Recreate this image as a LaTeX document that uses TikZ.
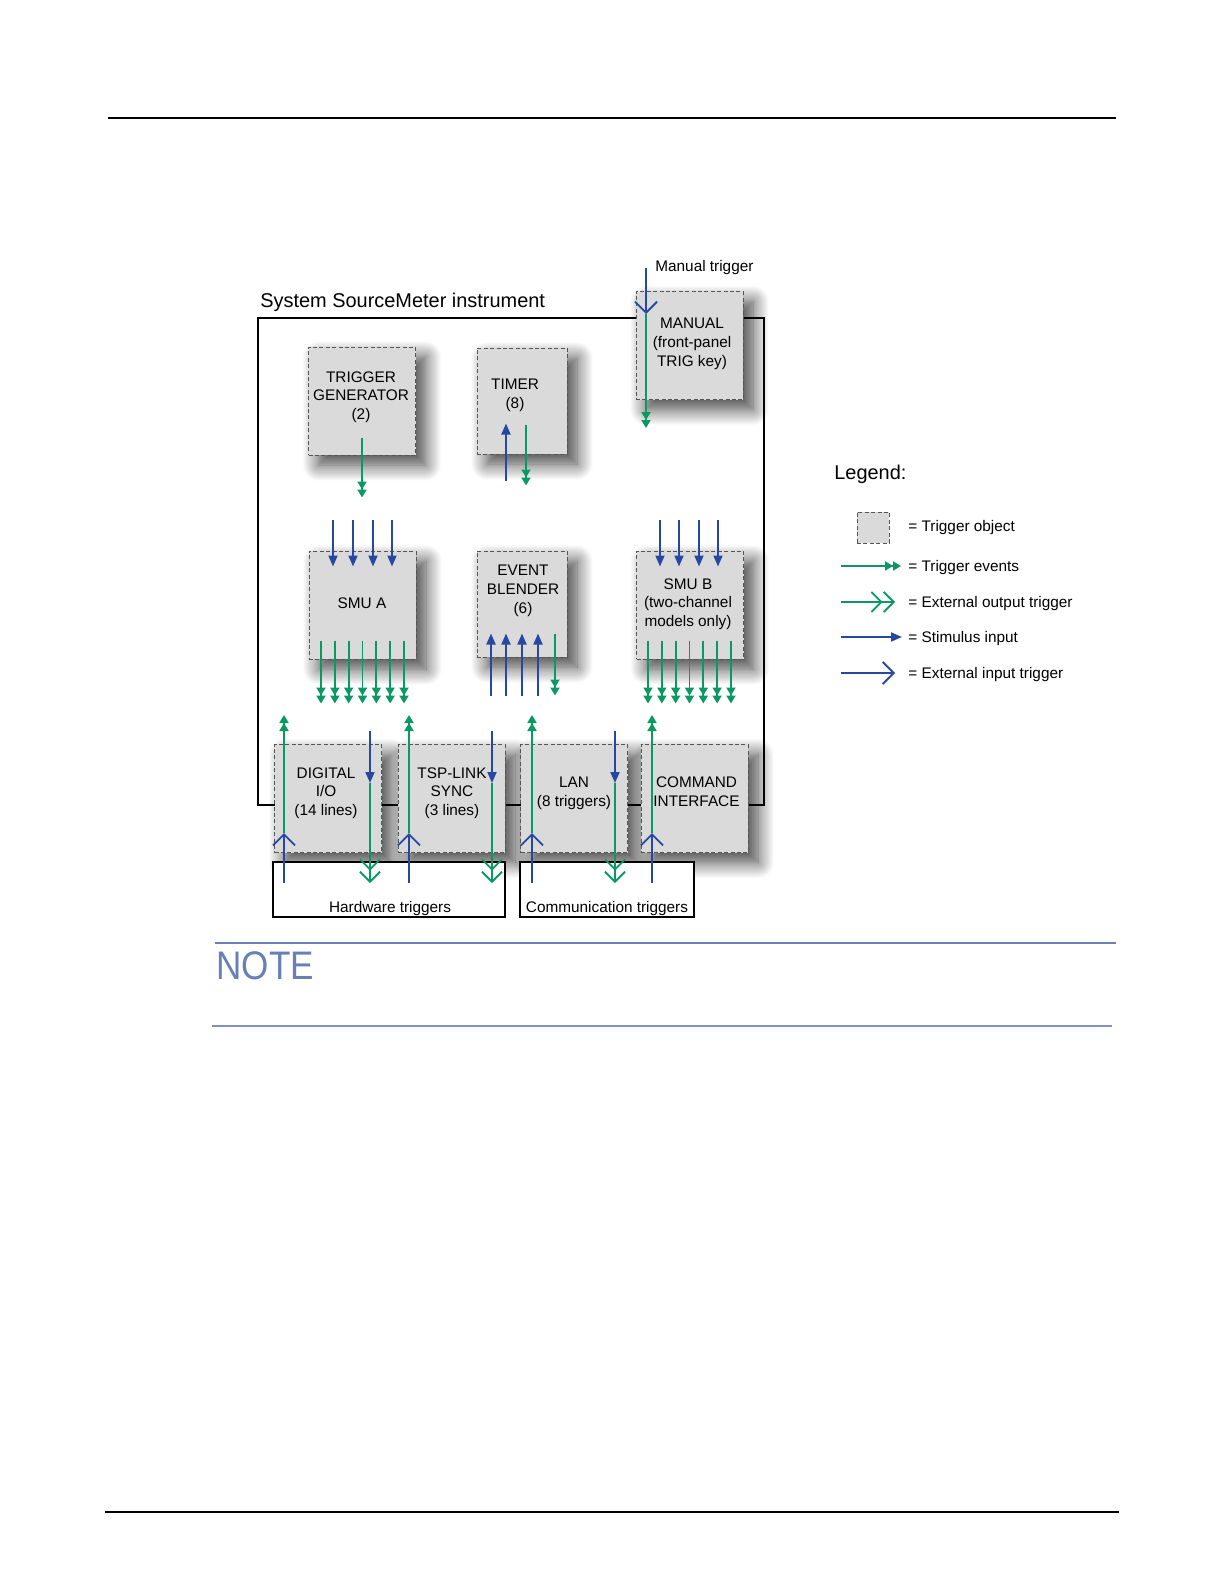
\documentclass[tikz,border=0pt]{standalone}
\usepackage{fontspec}
\setmainfont{Liberation Sans}
\newfontfamily\notefont[FakeStretch=0.88]{Liberation Sans}
\usepackage{xcolor}
\usetikzlibrary{arrows.meta, positioning, calc, shadows.blur}

\definecolor{evgreen}{RGB}{10,152,100}
\definecolor{stblue}{RGB}{38,72,160}
\definecolor{boxfill}{RGB}{218,218,218}
\definecolor{boxedge}{RGB}{85,85,85}
\definecolor{noteblue}{RGB}{105,128,180}

\tikzset{
  tobj/.style={draw=boxedge, fill=boxfill, dash pattern=on 2bp off 1.2bp, line width=0.5bp,
    minimum width=53.5bp, minimum height=54bp, inner sep=0pt,
    blur shadow={shadow xshift=5bp, shadow yshift=-5bp, shadow blur radius=8bp, shadow blur steps=16, shadow opacity=75}},
  tnarrow/.style={tobj, minimum width=45bp, minimum height=53bp},
  btxt/.style={font=\fontsize{7.7}{9.4}\selectfont, align=center, inner sep=0pt},
  ltxt/.style={font=\fontsize{7.7}{9.4}\selectfont, anchor=base west, inner sep=0pt},
  trig/.style={draw=evgreen, line width=0.95bp, -{Triangle[length=4bp,width=4.5bp]Triangle[length=4bp,width=4.5bp]}},
  extout/.style={draw=evgreen, line width=0.95bp, -{Straight Barb[length=5bp,width=10bp]Straight Barb[length=5bp,width=10bp]}},
  stim/.style={draw=stblue, line width=0.95bp, -{Triangle[length=5.5bp,width=4.5bp]}},
  extin/.style={draw=stblue, line width=0.95bp, -{Straight Barb[length=5.5bp,width=11bp]}},
}

\begin{document}
\begin{tikzpicture}[x=0.5bp, y=-0.5bp]
    \useasboundingbox (0,0) rectangle (1224,1584);

    % Page rules
    \draw[line width=0.9bp] (108,118) -- (1116,118);
    \draw[line width=0.9bp] (105,1512) -- (1119,1512);

    % Instrument frame
    \node[draw, line width=1.25bp, minimum width=253bp, minimum height=243.5bp, inner sep=0pt] (sys) at (511,561.5) {};
    \node[anchor=base west, inner sep=0pt, font=\fontsize{10}{12}\selectfont] (systitle) at (260,307) {System SourceMeter instrument};

    % Trigger objects
    \node[tobj] (tg) at (362,401) {};
    \node[btxt] (tgtxt) at (361,397) {TRIGGER\\GENERATOR\\(2)};
    \node[tnarrow] (tmr) at (522,401) {};
    \node[btxt] (tmrtxt) at (515,395) {TIMER\\(8)};
    \node[tobj] (man) at (689.5,345.5) {};
    \node[btxt] (mantxt) at (692,344) {MANUAL\\(front-panel\\TRIG key)};

    \node[tobj] (smua) at (362.5,605) {};
    \node[btxt] (smuatxt) at (362,603) {SMU A};
    \node[tnarrow] (evb) at (522,604) {};
    \node[btxt] (evbtxt) at (523,591) {EVENT\\BLENDER\\(6)};
    \node[tobj] (smub) at (690,605) {};
    \node[btxt] (smubtxt) at (688,604) {SMU B\\(two-channel\\models only)};

    \node[tobj] (dio) at (328,798.5) {};
    \node[btxt] (diotxt) at (326,793) {DIGITAL\\I/O\\(14 lines)};
    \node[tobj] (tsp) at (451.5,798.5) {};
    \node[btxt] (tsptxt) at (452,793) {TSP-LINK\\SYNC\\(3 lines)};
    \node[tobj] (lan) at (574,798.5) {};
    \node[btxt] (lantxt) at (574,793) {LAN\\(8 triggers)};
    \node[tobj] (cmd) at (694.5,798.5) {};
    \node[btxt] (cmdtxt) at (696.5,792) {COMMAND\\INTERFACE};

    % External groups
    \node[draw, fill=white, line width=1bp, minimum width=116bp, minimum height=27.5bp, inner sep=0pt] (hwbox) at (389,889.5) {};
    \node[btxt, anchor=base] (hwtxt) at (390,912) {Hardware triggers};
    \node[draw, fill=white, line width=1bp, minimum width=87bp, minimum height=27.5bp, inner sep=0pt] (combox) at (607,889.5) {};
    \node[btxt, anchor=base] (comtxt) at (607,912) {Communication triggers};

    % Manual trigger input
    \coordinate (mantrig) at (646,268);
    \node[ltxt] (mantrigtxt) at (655,271) {Manual trigger};
    \draw[extin] (mantrig) -- ($(man.north)+(-43.5,23)$) coordinate (manin);
    \draw[trig] (manin) -- ($(man.south)+(-43.5,28)$);

    % Generator and timer
    \draw[trig] ($(tg.south)+(0,-18)$) -- ($(tg.south)+(0,42)$);
    \draw[stim] ($(tmr.south)+(-16,26)$) -- ($(tmr.south)+(-16,-31)$);
    \draw[trig] ($(tmr.south)+(4,-30)$) -- ($(tmr.south)+(4,31)$);

    % SMUs and blender
    \foreach \dx in {-29.5,-9.5,10.5,29.5}
        \draw[stim] ($(smua.north)+(\dx,-31)$) -- ($(smua.north)+(\dx,16)$);
    \foreach \i in {0,...,6}
        \draw[trig] ($(smua.south)+(-41.5+13.83*\i,-19)$) -- ($(smua.south)+(-41.5+13.83*\i,44)$);
    \foreach \dx in {-31,-16,0,16}
        \draw[stim] ($(evb.south)+(\dx,38)$) -- ($(evb.south)+(\dx,-24)$);
    \draw[trig] ($(evb.south)+(33,-24)$) -- ($(evb.south)+(33,38)$);
    \foreach \dx in {-30,-11,9,28}
        \draw[stim] ($(smub.north)+(\dx,-31)$) -- ($(smub.north)+(\dx,16)$);
    \foreach \i in {0,...,6}
        \draw[trig] ($(smub.south)+(-42+13.83*\i,-19)$) -- ($(smub.south)+(-42+13.83*\i,44)$);

    % Hardware and communication triggers
    \foreach \b/\u in {dio/-44, tsp/-42.5, lan/-42, cmd/-42.5} {
        \draw[extin] ($(\b.south)+(\u,30)$) -- ($(\b.south)+(\u,-20)$);
        \draw[trig] ($(\b.south)+(\u,-20)$) -- ($(\b.north)+(\u,-29)$);
    }
    \foreach \b/\d in {dio/42, tsp/40.5, lan/41} {
        \draw[stim] ($(\b.north)+(\d,-13)$) -- ($(\b.north)+(\d,39)$);
        \draw[extout] ($(\b.north)+(\d,39)$) -- ($(\b.south)+(\d,30)$);
    }

    % Legend
    \node[anchor=base west, inner sep=0pt, font=\fontsize{10}{12}\selectfont] (lgtitle) at (834,479) {Legend:};
    \node[draw=boxedge, fill=boxfill, dash pattern=on 2bp off 1.2bp, line width=0.5bp, minimum width=16bp, minimum height=15.5bp, inner sep=0pt] (lgobj) at (873,527.5) {};
    \node[ltxt] (lgobjtxt) at (908,531.5) {= Trigger object};
    \coordinate (lgtrigA) at (841,566);   \coordinate (lgtrigB) at (901,566);
    \coordinate (lgoutA) at (841,602);    \coordinate (lgoutB) at (895,602);
    \coordinate (lgstimA) at (841,637);   \coordinate (lgstimB) at (902,637);
    \coordinate (lginA) at (841,673);     \coordinate (lginB) at (895,673);
    \draw[trig] (lgtrigA) -- (lgtrigB);
    \draw[extout] (lgoutA) -- (lgoutB);
    \draw[stim] (lgstimA) -- (lgstimB);
    \draw[extin] (lginA) -- (lginB);
    \node[ltxt] (lgtrigtxt) at (908,571.5) {= Trigger events};
    \node[ltxt] (lgouttxt) at (908,607.5) {= External output trigger};
    \node[ltxt] (lgstimtxt) at (908,642.5) {= Stimulus input};
    \node[ltxt] (lgintxt) at (908,678.5) {= External input trigger};

    % Note heading
    \draw[noteblue, line width=1.3bp] (215,943) -- (1116,943);
    \node[anchor=base west, inner sep=0pt, text=noteblue, font=\notefont\fontsize{20}{24}\selectfont] (note) at (216,979) {NOTE};
    \draw[noteblue!85, line width=0.6bp] (212,1026) -- (1112,1026);
\end{tikzpicture}
\end{document}
